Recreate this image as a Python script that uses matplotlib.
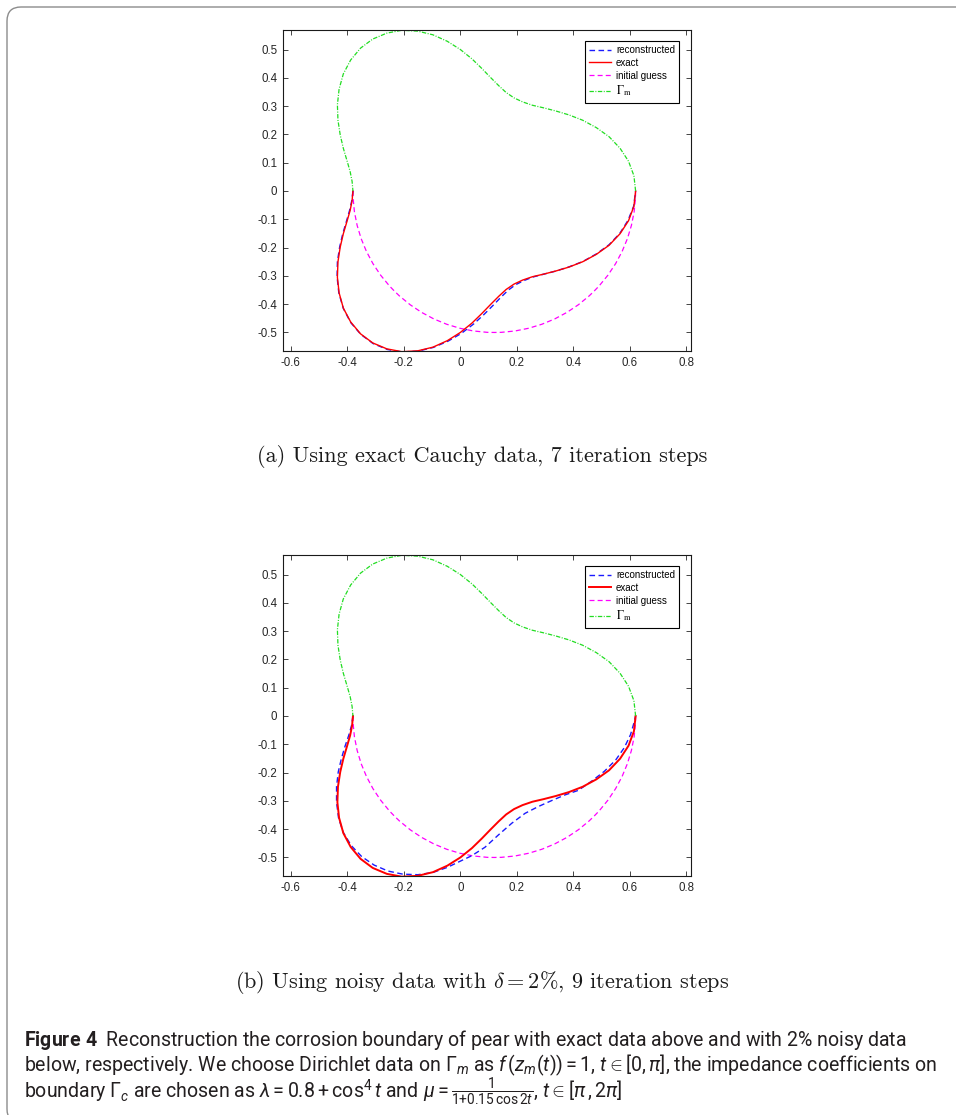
import matplotlib
matplotlib.use('Agg')
import matplotlib.pyplot as plt
from matplotlib.patches import Arc, FancyBboxPatch
from matplotlib.lines import Line2D
from matplotlib.font_manager import FontProperties

# measurement boundary Gamma_m (upper half, from right end to left end)
gamma_x = [0.620, 0.614, 0.595, 0.565, 0.526, 0.481, 0.433, 0.384, 0.337, 0.294, 0.255, 0.220,
           0.190, 0.162, 0.136, 0.107, 0.076, 0.041, 0.000, -0.046, -0.097, -0.151, -0.207, -0.260,
           -0.310, -0.353, -0.388, -0.414, -0.429, -0.435, -0.433, -0.425, -0.414, -0.401, -0.390,
           -0.383, -0.380]
gamma_y = [0.000, 0.054, 0.105, 0.151, 0.192, 0.224, 0.250, 0.269, 0.283, 0.294, 0.303, 0.315,
           0.329, 0.348, 0.372, 0.401, 0.433, 0.467, 0.500, 0.529, 0.552, 0.565, 0.568, 0.558,
           0.537, 0.505, 0.463, 0.414, 0.360, 0.305, 0.250, 0.198, 0.151, 0.107, 0.069,
           0.034, 0.000]

# exact corroded boundary Gamma_c (lower half, left end to right end)
exact_x = [-0.380, -0.383, -0.390, -0.401, -0.414, -0.425, -0.433, -0.435, -0.429, -0.414, -0.388,
           -0.353, -0.310, -0.260, -0.207, -0.151, -0.097, -0.046, 0.000, 0.041, 0.076, 0.107,
           0.136, 0.162, 0.190, 0.220, 0.255, 0.294, 0.337, 0.384, 0.433, 0.481, 0.526, 0.565,
           0.595, 0.614, 0.620]
exact_y = [0.000, -0.034, -0.069, -0.107, -0.151, -0.198, -0.250, -0.305, -0.360, -0.414, -0.463,
           -0.505, -0.537, -0.558, -0.568, -0.565, -0.552, -0.529, -0.500, -0.467, -0.433, -0.401,
           -0.372, -0.348, -0.329, -0.315, -0.303, -0.294, -0.283, -0.269, -0.250, -0.224, -0.192,
           -0.151, -0.105, -0.054, 0.000]

# reconstruction from exact Cauchy data (7 steps)
recon_a_x = [-0.380, -0.384, -0.392, -0.403, -0.416, -0.427, -0.435, -0.436, -0.430, -0.414, -0.388,
             -0.352, -0.309, -0.259, -0.206, -0.150, -0.096, -0.044, 0.004, 0.047, 0.083, 0.115,
             0.144, 0.170, 0.196, 0.224, 0.257, 0.295, 0.338, 0.385, 0.434, 0.482, 0.526, 0.564,
             0.593, 0.613, 0.620]
recon_a_y = [0.000, -0.034, -0.069, -0.107, -0.151, -0.198, -0.250, -0.305, -0.360, -0.415, -0.465,
             -0.507, -0.539, -0.560, -0.569, -0.566, -0.553, -0.531, -0.503, -0.470, -0.437, -0.405,
             -0.375, -0.350, -0.331, -0.317, -0.304, -0.294, -0.283, -0.268, -0.249, -0.222, -0.190,
             -0.150, -0.104, -0.054, 0.000]

# reconstruction from noisy data, delta = 2% (9 steps)
recon_b_x = [-0.380, -0.385, -0.395, -0.408, -0.421, -0.432, -0.438, -0.438, -0.431, -0.414, -0.386,
             -0.349, -0.305, -0.256, -0.204, -0.150, -0.097, -0.046, 0.000, 0.040, 0.087, 0.134,
             0.182, 0.229, 0.276, 0.323, 0.370, 0.417, 0.465, 0.510, 0.550, 0.580, 0.602, 0.614,
             0.620]
recon_b_y = [0.000, -0.034, -0.069, -0.107, -0.151, -0.198, -0.250, -0.305, -0.360, -0.412, -0.458,
             -0.497, -0.527, -0.548, -0.559, -0.561, -0.553, -0.535, -0.513, -0.494, -0.464, -0.421,
             -0.379, -0.344, -0.320, -0.299, -0.279, -0.263, -0.230, -0.195, -0.155, -0.112, -0.066,
             -0.025, 0.000]

# initial guess: lower half of a circle
guess_center = (0.12, 0.0)
guess_radius = 0.5

xticks = [-0.6, -0.4, -0.2, 0.0, 0.2, 0.4, 0.6, 0.8]
xticklabels = ['-0.6', '-0.4', '-0.2', '0', '0.2', '0.4', '0.6', '0.8']
yticks = [-0.5, -0.4, -0.3, -0.2, -0.1, 0.0, 0.1, 0.2, 0.3, 0.4, 0.5]
yticklabels = ['-0.5', '-0.4', '-0.3', '-0.2', '-0.1', '0', '0.1', '0.2', '0.3', '0.4', '0.5']
legend_labels = ['reconstructed', 'exact', 'initial guess', r'$\Gamma_{\mathrm{m}}$']

subcaptions = ['(a) Using exact Cauchy data, 7 iteration steps',
               r'(b) Using noisy data with $\delta = 2\%$, 9 iteration steps']
caption_lines = [
    [r'$\mathbf{Figure\ 4}$  Reconstruction the corrosion boundary of pear with exact data above and with 2% noisy data'],
    [r'below, respectively. We choose Dirichlet data on $\Gamma_m$ as $f\,(z_m(t)) = 1$, $t \in [0,\pi]$, the impedance coefficients on'],
    [r'boundary $\Gamma_c$ are chosen as $\lambda = 0.8 + \cos^4 t$ and',
     r'$\mu = \frac{1}{1{+}0.15\,\cos 2t}$, $t \in [\pi\,, 2\pi]$'],
]

cap_font = 'Roboto'
plt.rcParams['mathtext.fontset'] = 'custom'
plt.rcParams['mathtext.rm'] = cap_font
plt.rcParams['mathtext.it'] = cap_font + ':italic'
plt.rcParams['mathtext.bf'] = cap_font + ':bold'

W, H = 956, 1115
fig = plt.figure(figsize=(W / 100, H / 100), dpi=100)

# rounded frame around the whole figure block
frame = FancyBboxPatch((7, -8), 990, 1116, boxstyle='round,pad=0,rounding_size=14',
                       transform=None, facecolor='none', edgecolor='#8c8c8c', linewidth=1.0)
fig.add_artist(frame)

tick_font = FontProperties(family='Liberation Sans', size=8.3)
leg_font = FontProperties(family='Liberation Sans', size=7, math_fontfamily='stix')


def draw_panel(bottom, rx, ry, exact_lw):
    ax = fig.add_axes([282.7 / W, bottom / H, 408 / W, 321.3 / H])
    h1, = ax.plot(rx, ry, color='#1a1aff', lw=1.0, dashes=(4, 2.5))
    h2, = ax.plot(exact_x, exact_y, color='red', lw=exact_lw)
    arc = Arc(guess_center, 2 * guess_radius, 2 * guess_radius, theta1=180, theta2=360,
              color='magenta', lw=0.9, linestyle=(0, (4, 2.5)))
    ax.add_patch(arc)
    h4, = ax.plot(gamma_x, gamma_y, color='#22dd22', lw=0.9, linestyle=(0, (3.5, 1.2, 0.8, 1.2)))
    h3 = Line2D([], [], color='magenta', lw=0.9, dashes=(4, 2.5))

    ax.set_xlim(-0.6285, 0.8149)
    ax.set_ylim(-0.5666, 0.569)
    ax.set_xticks(xticks)
    ax.set_xticklabels(xticklabels, fontproperties=tick_font)
    ax.set_yticks(yticks)
    ax.set_yticklabels(yticklabels, fontproperties=tick_font)
    ax.tick_params(direction='in', length=3.5, width=0.6, top=True, right=True,
                   colors='#262626', pad=4)
    for s in ax.spines.values():
        s.set_linewidth(0.8)
        s.set_color('#1a1a1a')

    leg = ax.legend([h1, h2, h3, h4], legend_labels, loc='upper right',
                    bbox_to_anchor=(0.9725, 0.967), borderaxespad=0, prop=leg_font,
                    fancybox=False, framealpha=1, edgecolor='black', handlelength=2.3,
                    handletextpad=0.5, labelspacing=0.3, borderpad=0.45)
    leg.get_frame().set_linewidth(0.8)
    leg.get_texts()[3].set_fontsize(8.5)
    return ax


draw_panel(H - 351.3, recon_a_x, recon_a_y, 1.0)
draw_panel(H - 876.3, recon_b_x, recon_b_y, 1.4)

# sub-figure captions in Computer Modern
for text, yc in zip(subcaptions, [457, 982]):
    fig.text(482 / W, 1 - yc / H, text, ha='center', va='center', fontsize=16,
             family='cmr10', math_fontfamily='cm', color='#1a1a1a')

# figure caption, sized so the longest line spans the text block
cap_texts = []
for parts, yb in zip(caption_lines, [1046, 1071, 1098.5]):
    cap_texts.append([fig.text(24 / W, 1 - yb / H, p, ha='left', va='baseline', fontsize=12,
                               family=cap_font, color='#231f20') for p in parts])
renderer = fig.canvas.get_renderer()
line_w = cap_texts[1][0].get_window_extent(renderer).width
for row in cap_texts:
    x = 24
    for t in row:
        t.set_fontsize(12 * 914 / line_w)
        t.set_x(x / W)
        x += t.get_window_extent(renderer).width + 4.5

fig.savefig('out.png', dpi=100)
